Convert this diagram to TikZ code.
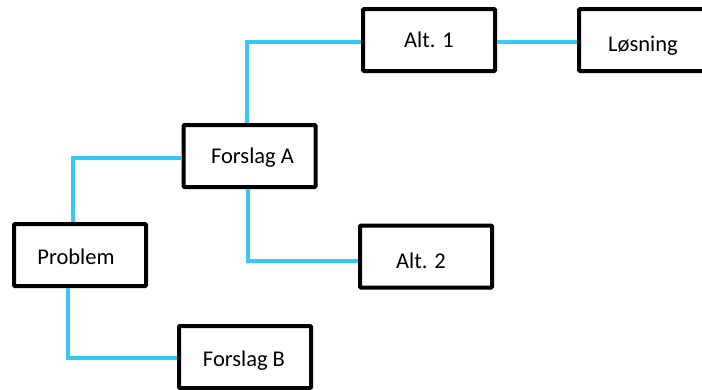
\documentclass[tikz,border=0pt]{standalone}
\usepackage{fontspec}
\setmainfont{Carlito}
\definecolor{linkblue}{RGB}{56,200,245}
\tikzset{
  box/.style={draw=black, line width=4pt, fill=white, rounded corners=1pt,
    minimum width=132pt, minimum height=62pt, inner sep=0pt},
  boxtext/.style={font=\fontsize{22.5}{27}\selectfont, inner sep=0pt},
  link/.style={draw=linkblue, line width=4pt}
}
\begin{document}
\begin{tikzpicture}[x=1pt,y=-1pt]
  \useasboundingbox (0,0) rectangle (702,389);
  \clip (0,0) rectangle (702,389);
  % boxes, each with its caption set a little off centre
  \node[box, label={[boxtext]center:Alt. 1}] (alt1) at (429,40) {};
  \node[box, label={[boxtext, xshift=-2pt, yshift=-6pt]center:Løsning}] (los) at (645,40) {};
  \node[box, label={[boxtext, xshift=3pt, yshift=-2pt]center:Forslag A}] (fa) at (249.5,156) {};
  \node[box, label={[boxtext, xshift=-4pt, yshift=-1.5pt]center:Problem}] (prob) at (80,255) {};
  \node[box, label={[boxtext, xshift=-1pt, yshift=-4pt]center:Forslag B}] (fb) at (245,357) {};
  \node[box, label={[boxtext, xshift=-5pt, yshift=-4pt]center:Alt. 2}] (alt2) at (426,256.5) {};
  % connectors
  \draw[link] ([xshift=-7pt]prob.north) |- ([yshift=-2pt]fa.west);
  \draw[link] ([xshift=-12pt]prob.south) |- ([yshift=-1pt]fb.west);
  \draw[link] ([xshift=-2.5pt]fa.north) |- ([yshift=-2pt]alt1.west);
  \draw[link] ([xshift=-1.5pt]fa.south) |- ([yshift=-4.5pt]alt2.west);
  \draw[link] ([yshift=-2pt]alt1.east) -- ([yshift=-2pt]los.west);
\end{tikzpicture}
\end{document}
